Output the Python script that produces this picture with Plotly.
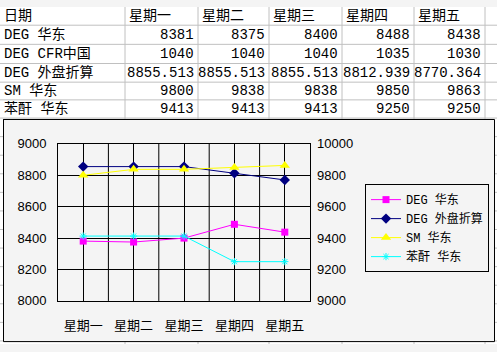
import plotly.graph_objects as go

# ---- data ----
days = ["星期一", "星期二", "星期三", "星期四", "星期五"]
header_first = "日期"
row_names = ["DEG 华东", "DEG CFR中国", "DEG 外盘折算", "SM 华东", "苯酐 华东"]
deg_east = [8381, 8375, 8400, 8488, 8438]
deg_cfr = [1040, 1040, 1040, 1035, 1030]
deg_ext = [8855.513, 8855.513, 8855.513, 8812.939, 8770.364]
sm_east = [9800, 9838, 9838, 9850, 9863]
pa_east = [9413, 9413, 9413, 9250, 9250]
left_ticks = [8000, 8200, 8400, 8600, 8800, 9000]
right_ticks = [9000, 9200, 9400, 9600, 9800, 10000]

W, H = 497, 352
TABLE_FONT = "Liberation Mono, Noto Sans CJK SC"
AX_FONT = "Liberation Sans, Arial"
CJK_FONT = "Noto Sans CJK SC"
GRID = "#C0C0C0"

table_rows = [deg_east, deg_cfr, deg_ext, sm_east, pa_east]

# spreadsheet geometry (pixels)
col_edges = [0, 125, 198, 269, 342, 414, 485, W]
row_edges = [0, 19, 39, 59, 78.5, 97, 116]

def px(x):
    return x / W

def py(y):
    return 1 - y / H

fig = go.Figure()

fig.add_trace(go.Scatter(x=days, y=deg_east, name="DEG 华东", mode="lines+markers",
                         line=dict(color="#FF00FF", width=1),
                         marker=dict(symbol="square", size=7, color="#FF00FF")))
fig.add_trace(go.Scatter(x=days, y=deg_ext, name="DEG 外盘折算", mode="lines+markers",
                         line=dict(color="#000080", width=1),
                         marker=dict(symbol="diamond", size=8, color="#000080")))
fig.add_trace(go.Scatter(x=days, y=sm_east, name="SM 华东", mode="lines+markers", yaxis="y2",
                         line=dict(color="#FFFF00", width=1),
                         marker=dict(symbol="triangle-up", size=9, color="#FFFF00")))
fig.add_trace(go.Scatter(x=days, y=pa_east, name="苯酐 华东", mode="lines+markers", yaxis="y2",
                         line=dict(color="#00FFFF", width=1),
                         marker=dict(symbol="asterisk-open", size=6, color="#00FFFF",
                                     line=dict(color="#00FFFF", width=1))))

shapes = []
annotations = []

# ---- spreadsheet region (table) ----
shapes.append(dict(type="rect", xref="paper", yref="paper", x0=0, x1=1, y0=py(117), y1=1,
                   fillcolor="white", line=dict(width=0), layer="below"))
for ry in row_edges[1:]:
    shapes.append(dict(type="line", xref="paper", yref="paper", x0=0, x1=1,
                       y0=py(ry), y1=py(ry), layer="below", line=dict(color=GRID, width=1)))
for cx in col_edges[1:-1]:
    shapes.append(dict(type="line", xref="paper", yref="paper", x0=px(cx), x1=px(cx),
                       y0=py(117), y1=1, layer="below", line=dict(color=GRID, width=1)))

tfont = dict(family=TABLE_FONT, size=14, color="black")
headers = [header_first] + days
for ci, htxt in enumerate(headers):
    annotations.append(dict(text=htxt, xref="paper", yref="paper", showarrow=False,
                            x=px(col_edges[ci] + 2), xanchor="left",
                            y=py((row_edges[0] + row_edges[1]) / 2), yanchor="middle", font=tfont))
for ri, name in enumerate(row_names):
    yc = py((row_edges[ri + 1] + row_edges[ri + 2]) / 2)
    annotations.append(dict(text=name, xref="paper", yref="paper", showarrow=False,
                            x=px(col_edges[0] + 2), xanchor="left", y=yc, yanchor="middle",
                            font=tfont))
    for di, val in enumerate(table_rows[ri]):
        annotations.append(dict(text=str(val), xref="paper", yref="paper", showarrow=False,
                                x=px(col_edges[di + 2] - 2), xanchor="right", y=yc,
                                yanchor="middle", font=tfont))

# ---- spreadsheet strips visible around the chart object ----
strip = dict(type="rect", xref="paper", yref="paper", fillcolor="white",
             line=dict(width=0), layer="above")
shapes.append(dict(strip, x0=0, x1=px(3), y0=0, y1=py(117)))
shapes.append(dict(strip, x0=px(494), x1=1, y0=0, y1=py(117)))
shapes.append(dict(strip, x0=0, x1=1, y0=0, y1=py(349)))
ry = 116 + 19.4
while ry < H:
    for a, b in ((0, 3), (494, W)):
        shapes.append(dict(type="line", xref="paper", yref="paper", x0=px(a), x1=px(b),
                           y0=py(ry), y1=py(ry), layer="above",
                           line=dict(color=GRID, width=1)))
    ry += 19.4
for cx in col_edges[1:-1]:
    shapes.append(dict(type="line", xref="paper", yref="paper", x0=px(cx), x1=px(cx),
                       y0=0, y1=py(349), layer="above", line=dict(color=GRID, width=1)))

# ---- chart object ----
shapes.append(dict(type="rect", xref="paper", yref="paper", x0=px(3.5), x1=px(494.5),
                   y0=py(349.5), y1=py(117.5), layer="below",
                   line=dict(color="black", width=1), fillcolor="#F4F4F4"))
shapes.append(dict(type="rect", xref="paper", yref="paper", x0=px(3.5), x1=px(494.5),
                   y0=py(349.5), y1=py(117.5), layer="above",
                   line=dict(color="black", width=1), fillcolor="rgba(0,0,0,0)"))

plot_l, plot_r, plot_t, plot_b = 58, 310, 143, 307
# category boundary gridlines
for i in range(len(days) - 1):
    shapes.append(dict(type="line", xref="x", yref="paper", x0=i + 0.5, x1=i + 0.5,
                       y0=py(plot_b), y1=py(plot_t), layer="between",
                       line=dict(color="black", width=1)))

fig.update_layout(
    width=W, height=H, margin=dict(l=0, r=0, t=0, b=0),
    paper_bgcolor="#F4F4F4", plot_bgcolor="#C0C0C0",
    shapes=shapes, annotations=annotations,
    xaxis=dict(type="category", categoryorder="array", categoryarray=days,
               domain=[px(plot_l), px(plot_r)], range=[-0.5, len(days) - 0.5],
               showgrid=True, gridcolor="black", gridwidth=1,
               showline=True, linecolor="black", linewidth=1, mirror=True,
               ticks="", ticklabelstandoff=12, fixedrange=True,
               tickfont=dict(family=CJK_FONT, size=13, color="black")),
    yaxis=dict(domain=[py(plot_b), py(plot_t)], range=[left_ticks[0], left_ticks[-1]],
               tickvals=left_ticks, ticktext=[str(v) for v in left_ticks],
               showgrid=True, gridcolor="black", gridwidth=1,
               zeroline=False, showline=True, linecolor="black", linewidth=1, mirror=True,
               ticks="", ticklabelstandoff=8,
               tickfont=dict(family=AX_FONT, size=13, color="black")),
    yaxis2=dict(overlaying="y", side="right", range=[right_ticks[0], right_ticks[-1]],
                tickvals=right_ticks, ticktext=[str(v) for v in right_ticks],
                showgrid=False, zeroline=False, showline=False,
                ticks="", ticklabelstandoff=6,
                tickfont=dict(family=AX_FONT, size=13, color="black")),
    legend=dict(x=px(365), y=py(185), xanchor="left", yanchor="top",
                bgcolor="#F4F4F4", bordercolor="black", borderwidth=1,
                font=dict(family=TABLE_FONT, size=12, color="black"),
                itemwidth=30, tracegroupgap=0),
    showlegend=True,
)

fig.write_html("out.html")
